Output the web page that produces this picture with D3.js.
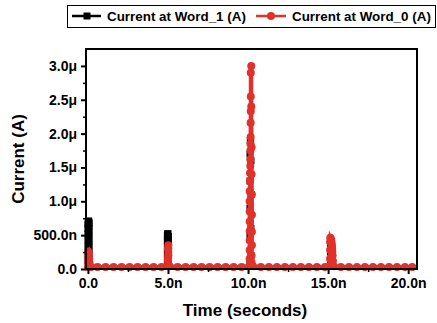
<!DOCTYPE html>
<html>
<head>
<meta charset="utf-8">
<script src="https://cdn.jsdelivr.net/npm/d3@7"></script>
<style>
  body { margin: 0; background: #fff; }
  text { font-family: "Liberation Sans", Arial, sans-serif; font-weight: bold; }
</style>
</head>
<body>
<div id="chart"></div>
<script>
// time in ns, current in uA
var word1Time = [0.00, 0.00, 0.00, 0.00, 0.00, 0.00, 0.00, 0.00, 0.02, 0.05, 0.08, 0.08, 0.08, 0.08, 0.08, 0.08, 0.08, 0.10,
  4.96, 4.96, 4.96, 4.96, 4.96, 4.96, 4.98, 5.00, 5.03, 5.03, 5.03, 5.03, 5.03, 5.06,
  10.12, 10.12, 10.12, 10.12, 10.12, 10.12, 10.14, 10.16, 10.18, 10.18, 10.18, 10.18, 10.22,
  15.15, 15.15, 15.15, 15.15, 15.20, 15.25, 15.25, 15.30, 20.25];
var word1Current = [0.03, 0.12, 0.22, 0.32, 0.42, 0.52, 0.60, 0.66, 0.70, 0.71, 0.68, 0.60, 0.50, 0.40, 0.30, 0.20, 0.10, 0.03,
  0.03, 0.12, 0.22, 0.32, 0.42, 0.50, 0.52, 0.52, 0.48, 0.38, 0.28, 0.18, 0.08, 0.03,
  0.03, 0.10, 0.50, 0.90, 1.30, 1.70, 1.90, 1.88, 1.60, 1.10, 0.60, 0.20, 0.03,
  0.03, 0.10, 0.25, 0.38, 0.40, 0.30, 0.15, 0.03, 0.03];

var word0Time = [0.00, 0.00, 0.00, 0.00, 0.03, 0.06, 0.08, 0.10, 0.20,
  0.6, 1.1, 1.6, 2.1, 2.6, 3.1, 3.6, 4.1, 4.6,
  5.00, 5.00, 5.02, 5.02, 5.02, 5.02, 5.00, 5.00, 5.10,
  5.6, 6.1, 6.6, 7.1, 7.6, 8.1, 8.6, 9.1, 9.6,
  10.10, 10.10, 10.10, 10.10, 10.10, 10.10, 10.10, 10.10, 10.10, 10.12, 10.12, 10.14, 10.14, 10.15, 10.15, 10.16, 10.16, 10.17, 10.17, 10.17,
  10.20, 10.20, 10.22, 10.22, 10.24, 10.24, 10.24, 10.24, 10.22, 10.22, 10.30,
  10.8, 11.3, 11.8, 12.3, 12.8, 13.3, 13.8, 14.3, 14.8,
  15.12, 15.12, 15.12, 15.12, 15.14, 15.16, 15.20, 15.22, 15.24, 15.25, 15.26, 15.28, 15.30, 15.35,
  15.8, 16.3, 16.8, 17.3, 17.8, 18.3, 18.8, 19.3, 19.8, 20.25];
var word0Current = [0.03, 0.10, 0.18, 0.25, 0.26, 0.22, 0.15, 0.08, 0.03,
  0.03, 0.03, 0.03, 0.03, 0.03, 0.03, 0.03, 0.03, 0.03,
  0.05, 0.12, 0.20, 0.24, 0.30, 0.35, 0.30, 0.16, 0.04,
  0.03, 0.03, 0.03, 0.03, 0.03, 0.03, 0.03, 0.03, 0.03,
  0.05, 0.15, 0.28, 0.42, 0.56, 0.70, 0.85, 1.00, 1.15, 1.30, 1.42, 1.52, 1.62, 1.75, 1.85, 1.95, 2.16, 2.33, 2.55, 2.90,
  3.00, 2.40, 1.80, 1.40, 1.10, 0.80, 0.55, 0.35, 0.20, 0.10, 0.04,
  0.03, 0.03, 0.03, 0.03, 0.03, 0.03, 0.03, 0.03, 0.03,
  0.05, 0.15, 0.28, 0.40, 0.46, 0.45, 0.42, 0.38, 0.34, 0.30, 0.26, 0.20, 0.12, 0.04,
  0.03, 0.03, 0.03, 0.03, 0.03, 0.03, 0.03, 0.03, 0.03, 0.03];

var xTicks = [0, 5, 10, 15, 20];
var xTickLabels = ["0.0", "5.0n", "10.0n", "15.0n", "20.0n"];
var xMinorTicks = [2.5, 7.5, 12.5, 17.5];
var yTicks = [0, 0.5, 1.0, 1.5, 2.0, 2.5, 3.0];
var yTickLabels = ["0.0", "500.0n", "1.0\u03bc", "1.5\u03bc", "2.0\u03bc", "2.5\u03bc", "3.0\u03bc"];
var yMinorTicks = [0.25, 0.75, 1.25, 1.75, 2.25, 2.75];
var seriesNames = ["Current at Word_1 (A)", "Current at Word_0 (A)"];
var seriesColors = ["#000000", "#e0312a"];

var width = 437, height = 323;
var plot = { left: 86, right: 417, top: 49, bottom: 269 };

var svg = d3.select("#chart").append("svg")
  .attr("width", width)
  .attr("height", height);

var x = d3.scaleLinear().domain([-0.12, 20.55]).range([plot.left, plot.right]);
var y = d3.scaleLinear().domain([0, 3.25]).range([plot.bottom, plot.top]);

var line = d3.line()
  .x(function (d) { return x(d.t); })
  .y(function (d) { return y(d.i); });

function pairs(ts, is) {
  return ts.map(function (t, k) { return { t: t, i: is[k] }; });
}
var word1 = pairs(word1Time, word1Current);
var word0 = pairs(word0Time, word0Current);

// black series
svg.append("path")
  .datum(word1)
  .attr("fill", "none")
  .attr("stroke", seriesColors[0])
  .attr("stroke-width", 2.5)
  .attr("d", line);

svg.selectAll(".sq")
  .data(word1.filter(function (d) { return d.i > 0.05; }))
  .enter().append("rect")
  .attr("x", function (d) { return x(d.t) - 3.5; })
  .attr("y", function (d) { return y(d.i) - 3.5; })
  .attr("width", 7)
  .attr("height", 7)
  .attr("fill", seriesColors[0]);

// red series
svg.append("path")
  .datum(word0)
  .attr("fill", "none")
  .attr("stroke", seriesColors[1])
  .attr("stroke-width", 4)
  .attr("d", line);

svg.selectAll(".dot")
  .data(word0)
  .enter().append("circle")
  .attr("cx", function (d) { return x(d.t); })
  .attr("cy", function (d) { return y(d.i); })
  .attr("r", 4)
  .attr("fill", seriesColors[1]);

// frame
svg.append("rect")
  .attr("x", plot.left)
  .attr("y", plot.top)
  .attr("width", plot.right - plot.left)
  .attr("height", plot.bottom - plot.top)
  .attr("fill", "none")
  .attr("stroke", "#000")
  .attr("stroke-width", 2);

// x axis
var xAxis = svg.append("g")
  .attr("transform", "translate(0," + plot.bottom + ")")
  .call(d3.axisBottom(x).tickValues(xTicks).tickSize(5).tickSizeOuter(0)
    .tickFormat(function (d, k) { return xTickLabels[k]; }));
xAxis.select(".domain").remove();
xAxis.selectAll("line").attr("stroke-width", 2);
xAxis.selectAll("text").attr("font-size", 14).attr("fill", "#000").attr("y", 9).attr("dy", "0.71em");

svg.append("g")
  .attr("transform", "translate(0," + plot.bottom + ")")
  .call(d3.axisBottom(x).tickValues(xMinorTicks).tickSize(3).tickFormat(""))
  .call(function (g) { g.select(".domain").remove(); g.selectAll("line").attr("stroke-width", 1.5); });

// y axis
var yAxis = svg.append("g")
  .attr("transform", "translate(" + plot.left + ",0)")
  .call(d3.axisLeft(y).tickValues(yTicks).tickSize(5).tickSizeOuter(0)
    .tickFormat(function (d, k) { return yTickLabels[k]; }));
yAxis.select(".domain").remove();
yAxis.selectAll("line").attr("stroke-width", 2);
yAxis.selectAll("text").attr("font-size", 14).attr("fill", "#000").attr("x", -9);

svg.append("g")
  .attr("transform", "translate(" + plot.left + ",0)")
  .call(d3.axisLeft(y).tickValues(yMinorTicks).tickSize(3).tickFormat(""))
  .call(function (g) { g.select(".domain").remove(); g.selectAll("line").attr("stroke-width", 1.5); });

// axis titles
svg.append("text")
  .attr("x", 245)
  .attr("y", 316)
  .attr("text-anchor", "middle")
  .attr("font-size", 17)
  .text("Time (seconds)");

svg.append("text")
  .attr("transform", "translate(24," + ((plot.top + plot.bottom) / 2) + ") rotate(-90)")
  .attr("text-anchor", "middle")
  .attr("font-size", 17)
  .text("Current (A)");

// legend
var legend = svg.append("g");
legend.append("rect")
  .attr("x", 67.5).attr("y", 5.5)
  .attr("width", 368).attr("height", 22)
  .attr("fill", "#fff").attr("stroke", "#000").attr("stroke-width", 1);

legend.append("line").attr("x1", 72).attr("x2", 101).attr("y1", 16).attr("y2", 16)
  .attr("stroke", seriesColors[0]).attr("stroke-width", 2.5);
legend.append("rect").attr("x", 83.5).attr("y", 12.5).attr("width", 7).attr("height", 7)
  .attr("fill", seriesColors[0]);
legend.append("text").attr("x", 107).attr("y", 21).attr("font-size", 13.4).text(seriesNames[0]);

legend.append("line").attr("x1", 256).attr("x2", 286).attr("y1", 16).attr("y2", 16)
  .attr("stroke", seriesColors[1]).attr("stroke-width", 2.5);
legend.append("circle").attr("cx", 271).attr("cy", 16).attr("r", 4)
  .attr("fill", seriesColors[1]);
legend.append("text").attr("x", 292).attr("y", 21).attr("font-size", 13.4).text(seriesNames[1]);
</script>
</body>
</html>
